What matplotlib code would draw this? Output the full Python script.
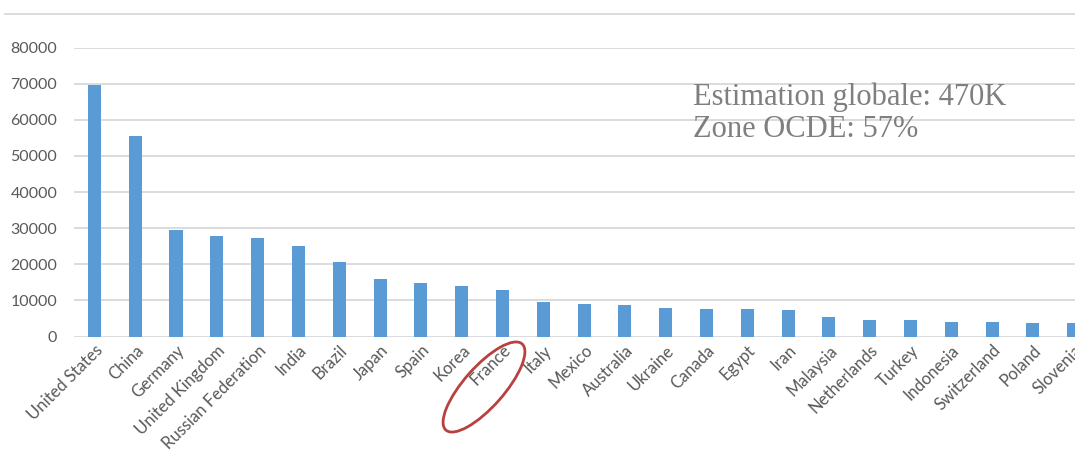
import matplotlib.pyplot as plt
from matplotlib.patches import Ellipse
from matplotlib.lines import Line2D
from matplotlib.transforms import IdentityTransform

pays = ["United States", "China", "Germany", "United Kingdom", "Russian Federation",
        "India", "Brazil", "Japan", "Spain", "Korea", "France", "Italy", "Mexico",
        "Australia", "Ukraine", "Canada", "Egypt", "Iran", "Malaysia", "Netherlands",
        "Turkey", "Indonesia", "Switzerland", "Poland", "Slovenia"]
valeurs = [69500, 55400, 29400, 27700, 27300, 25100, 20500, 15900, 14800, 14000,
           12800, 9600, 9100, 8600, 8000, 7700, 7700, 7400, 5500, 4500,
           4500, 4000, 4000, 3800, 3800]
yticks = [0, 10000, 20000, 30000, 40000, 50000, 60000, 70000, 80000]
lignes_texte = ["Estimation globale: 470K", "Zone OCDE: 57%"]

gris = "#595959"
grille = "#d9d9d9"

fig = plt.figure(figsize=(10.75, 4.7), dpi=100)
ax = fig.add_axes([74 / 1075, 1 - 336.5 / 470, 1 - 74 / 1075, (336.5 - 47.5) / 470])

x = list(range(len(pays)))
ax.bar(x, valeurs, width=0.32, color="#5b9bd5", zorder=3)

ax.set_xlim(-0.5, 24.03)
ax.set_ylim(0, 80000)
ax.set_yticks(yticks)
ax.set_yticklabels([str(v) for v in yticks], fontsize=11.5, color=gris, family="Lato")
ax.yaxis.grid(True, color=grille, lw=1.3, zorder=0)
ax.tick_params(axis="y", length=0, pad=12)
ax.tick_params(axis="x", length=0, pad=4)
ax.set_xticks(x)
ax.set_xticklabels(pays, rotation=45, ha="right", va="top", rotation_mode="anchor",
                   fontsize=12, color=gris, family="Lato")
for s in ax.spines.values():
    s.set_visible(False)

# texte d'annotation (deux lignes)
for txt, yy in zip(lignes_texte, [0.801, 0.690]):
    ax.text(0.618, yy, txt, transform=ax.transAxes, fontsize=22, color="#7f7f7f",
            family="Liberation Serif", va="baseline")

# ligne du haut
fig.add_artist(Line2D([5 / 1075, 1], [1 - 14 / 470, 1 - 14 / 470], color=grille, lw=1.3,
                      transform=fig.transFigure))

# ellipse rouge autour de France
fig.add_artist(Ellipse((484, 470 - 387), 115, 40, angle=48.5, fill=False,
                       edgecolor="#b8413f", lw=2, transform=IdentityTransform()))

fig.savefig("out.png", dpi=100)
